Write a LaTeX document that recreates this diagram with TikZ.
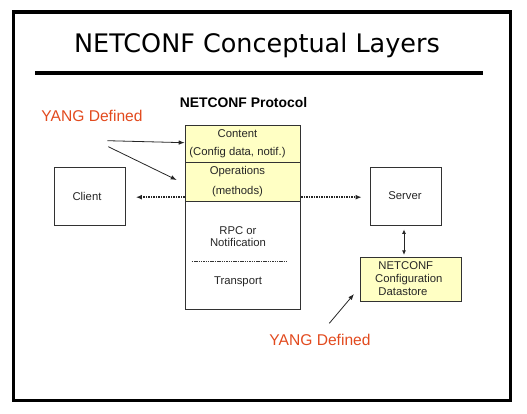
\documentclass[tikz,border=0pt]{standalone}
\usepackage{fontspec}
\setmainfont{Liberation Sans}
\newfontfamily\titlefont{DejaVu Sans}
\usetikzlibrary{arrows.meta,calc}
\definecolor{boxyellow}{RGB}{255,255,196}
\definecolor{yangred}{RGB}{226,74,30}
\definecolor{edgegray}{RGB}{50,50,50}
\tikzset{
  plainbox/.style={draw=edgegray,line width=0.9pt,inner sep=0pt,fill=white},
  yellowbox/.style={plainbox,fill=boxyellow},
  boxtext/.style={inner sep=0pt,font=\fontsize{11.3}{13}\selectfont,text=black!85},
  yangtext/.style={inner sep=0pt,font=\fontsize{15.6}{18}\selectfont,text=yangred},
  arr/.style={-{Latex[length=6pt,width=4.5pt]},line width=0.8pt,draw=black!85},
  dotarr/.style={-{Latex[length=6pt,width=5pt]},line width=1.6pt,dash pattern=on 1.5pt off 1pt,draw=black!85}
}
\begin{document}
\begin{tikzpicture}[x=1pt,y=-1pt]
\useasboundingbox (0,0) rectangle (527,414);
% frame
\draw[line width=3.6pt] (13.5,11.8) rectangle (510.3,400.5);
\node[inner sep=0pt,font=\titlefont\fontsize{25.5}{30}\selectfont] (title) at (257,45.5) {NETCONF Conceptual Layers};
\draw[line width=3.6pt] (35,72.8) -- (483,72.8);
\node[inner sep=0pt,font=\bfseries\fontsize{13.9}{16}\selectfont] (proto) at (243.5,103) {NETCONF Protocol};
\node[yangtext] (yang1) at (92,115.5) {YANG Defined};
% stack
\node[yellowbox,minimum width=115.7pt,minimum height=37.7pt] (content) at (243,143.9) {};
\node[yellowbox,minimum width=115.7pt,minimum height=38.3pt] (ops) at (243,181.9) {};
\node[plainbox,minimum width=115.7pt,minimum height=108pt] (lower) at (243,255) {};
\node[boxtext] (t1) at (237.5,133.5) {Content};
\node[boxtext] (t2) at (237.5,153) {(Config data, notif.)};
\node[boxtext] (t3) at (237.5,172) {Operations};
\node[boxtext] (t4) at (237.5,191.5) {(methods)};
\node[boxtext] (t5) at (238,231) {RPC or};
\node[boxtext] (t6) at (238,242.5) {Notification};
\coordinate (dl) at (191.7,261.7);
\coordinate (dr) at (287,261.7);
\draw[line width=0.6pt,dash pattern=on 1.5pt off 0.8pt,draw=black!80] (dl) -- (dr);
\node[boxtext] (t7) at (238,282) {Transport};
% client and server
\node[plainbox,minimum width=71pt,minimum height=57.7pt] (client) at (89.5,196.2) {};
\node[boxtext] (ct) at (87,196.5) {Client};
\node[plainbox,minimum width=71pt,minimum height=58pt] (server) at (405.5,196) {};
\node[boxtext] (st) at (405,195.7) {Server};
\node[yellowbox,minimum width=101.7pt,minimum height=43.7pt] (store) at (410.8,279.2) {};
\node[boxtext,align=left] (stt) at (408.8,279) {\hspace*{3.3pt}NETCONF\\Configuration\\\hspace*{3.3pt}Datastore};
% dotted arrows
\draw[dotarr] (client.east -| ops.west) ++(0,1) -- ($(client.east)+(10.5,1)$);
\draw[dotarr] (server.west -| ops.east) ++(0,1.2) -- ($(server.west)+(-8,1.2)$);
% server - datastore
\draw[{Latex[length=4.5pt,width=4pt]}-{Latex[length=4.5pt,width=4pt]},line width=0.8pt,draw=black!85] ($(server.south)+(-1.5,4)$) -- ($(store.north)+(-6.8,-2)$);
% YANG arrows
\coordinate (y1a) at (107.3,140.7);
\coordinate (y1b) at (108.3,146.7);
\coordinate (y1end) at (176.7,180);
\draw[arr] (y1a) -- (content.west |- 0,142.7);
\draw[arr] (y1b) -- (y1end);
\node[yangtext] (yang2) at (320,339.5) {YANG Defined};
\coordinate (y2a) at (329.3,323.3);
\coordinate (y2b) at (354,294);
\draw[arr] (y2a) -- (y2b);
\end{tikzpicture}
\end{document}
